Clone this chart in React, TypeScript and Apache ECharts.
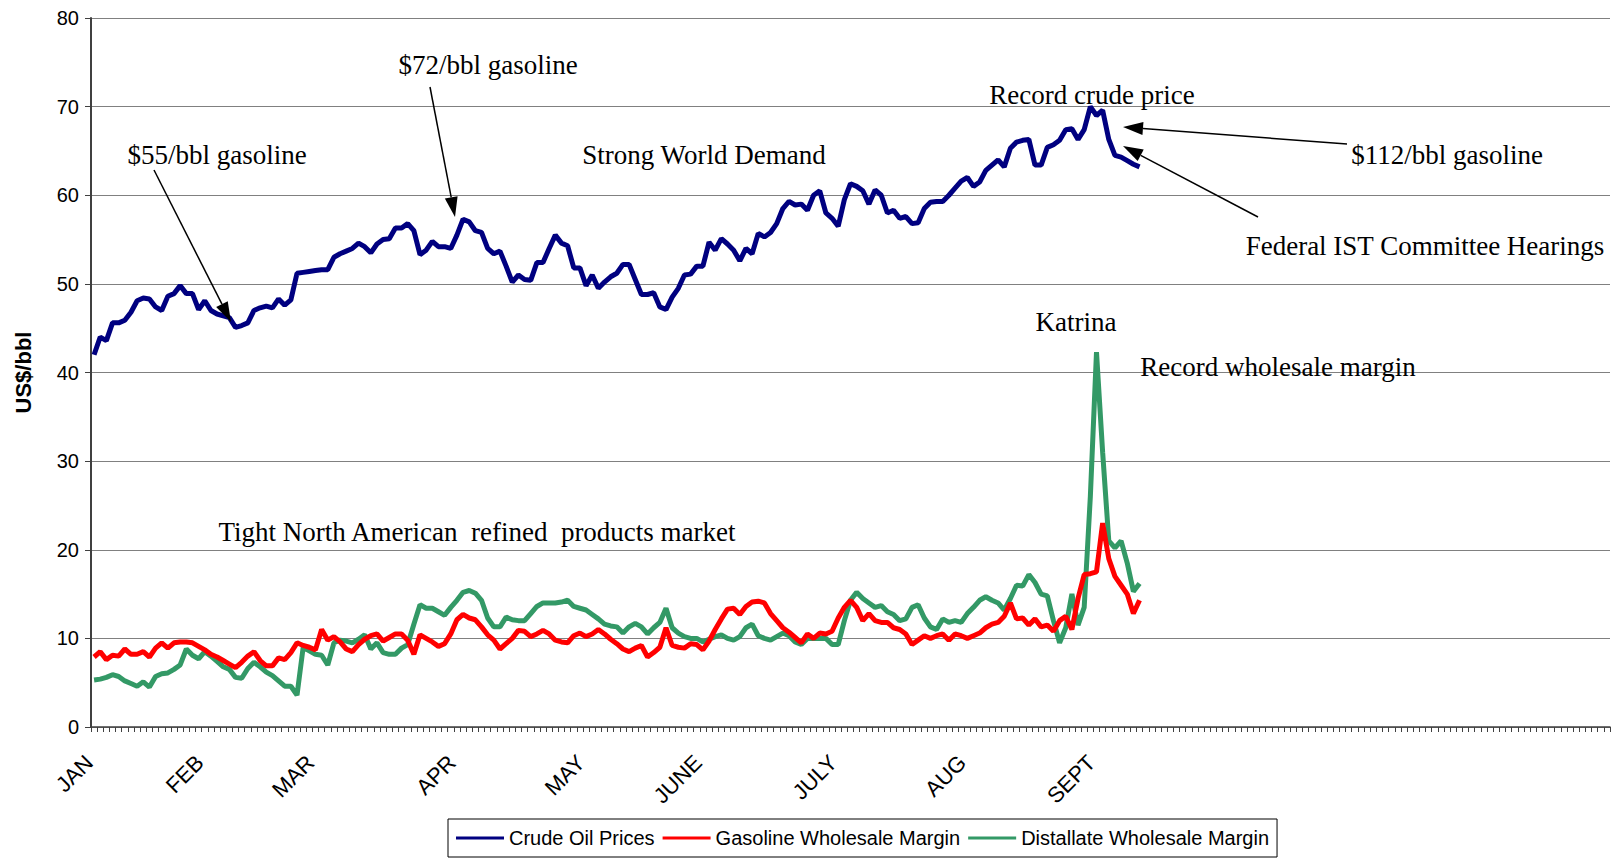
import React, { useEffect, useRef } from "react";
import * as echarts from "echarts";

const N_CATEGORIES = 247;
const monthLabels = ["JAN", "FEB", "MAR", "APR", "MAY", "JUNE", "JULY", "AUG", "SEPT"];
const monthStartIndex = [0, 18, 36, 59, 80, 99, 121, 142, 163];

const crudeOil = [
  42, 44, 43.6, 45.6, 45.6, 45.9, 46.8, 48.1, 48.4, 48.3,
  47.4, 47, 48.6, 48.9, 49.8, 48.9, 48.9, 47.1, 48.1, 47,
  46.6, 46.4, 46.2, 45.1, 45.3, 45.6, 47, 47.3, 47.5, 47.3,
  48.3, 47.6, 48.2, 51.2, 51.3, 51.4, 51.5, 51.6, 51.6,
  53, 53.4, 53.7, 54, 54.6, 54.2, 53.5, 54.5, 55, 55.1,
  56.3, 56.3, 56.8, 56, 53.3, 53.8, 54.8, 54.2, 54.2, 54,
  55.5, 57.3, 57, 56, 55.8, 54, 53.4, 53.7, 52, 50.2,
  51, 50.5, 50.4, 52.4, 52.4, 54, 55.5, 54.6, 54.3, 51.8,
  51.8, 49.8, 51, 49.5, 50.2, 50.8, 51.2, 52.2, 52.2, 50.5,
  48.8, 48.8, 49, 47.4, 47.1, 48.5, 49.5, 51, 51.1, 52,
  52, 54.7, 53.8, 55.1, 54.5, 53.8, 52.6, 54, 53.4, 55.7,
  55.3, 55.8, 56.8, 58.5, 59.3, 58.9, 59, 58.3, 60, 60.5,
  58, 57.4, 56.5, 59.5, 61.3, 61, 60.5, 59, 60.6, 60,
  58, 58.3, 57.4, 57.6, 56.8, 56.9, 58.5, 59.2, 59.3, 59.3,
  60, 60.8, 61.6, 62, 61, 61.5, 62.8,
  63.4, 64, 63.2, 65.3, 66, 66.2, 66.3, 63.4, 63.4, 65.4,
  65.7, 66.2, 67.4, 67.5, 66.3, 67.4, 70, 69, 69.6, 66.3,
  64.5, 64.3, 63.9, 63.5, 63.2,
];

const gasolineMargin = [
  7.9, 8.5, 7.6, 8.1, 8, 8.8, 8.2, 8.2, 8.5, 7.9,
  8.9, 9.5, 8.9, 9.5, 9.6, 9.6, 9.5, 9.1, 8.7, 8.2,
  7.9, 7.5, 7.1, 6.7, 7.3, 8, 8.5, 7.5, 6.9, 6.9,
  7.8, 7.6, 8.4, 9.5, 9.2, 9, 8.7, 11, 9.8, 10.2,
  9.6, 8.8, 8.5, 9.3, 9.9, 10.3, 10.5, 9.7, 10.1, 10.5,
  10.5, 9.8, 8.2, 10.4, 10, 9.6, 9.1, 9.4, 10.5, 12.1,
  12.7, 12.3, 12.1, 11.3, 10.4, 9.8, 8.8, 9.4, 10, 10.9,
  10.8, 10.2, 10.5, 10.9, 10.5, 9.8, 9.6, 9.5, 10.3, 10.6,
  10.2, 10.5, 11, 10.5, 9.9, 9.4, 8.8, 8.5, 8.9, 9.2,
  7.9, 8.4, 9, 11.2, 9.2, 9, 8.9, 9.4, 9.3, 8.7,
  9.7, 11, 12.2, 13.3, 13.4, 12.7, 13.6, 14.1, 14.2, 14,
  12.8, 12, 11.2, 10.7, 10.1, 9.5,
  10.5, 10, 10.6, 10.5, 10.8, 12.3, 13.5, 14.3, 13.5, 12,
  12.8, 12, 11.8, 11.8, 11.2, 11, 10.5, 9.3, 9.8, 10.3,
  10, 10.3, 10.5, 9.8, 10.5, 10.3, 10, 10.3, 10.6, 11.2,
  11.6,
  11.8, 12.5, 14, 12.2, 12.3, 11.5, 12.2, 11.3, 11.5, 10.8,
  12, 12.5, 11, 14.5, 17.2, 17.3, 17.5, 23, 19, 17,
  16, 15, 12.8, 14.3,
];

const distillateMargin = [
  5.3, 5.4, 5.6, 5.9, 5.7, 5.2, 4.9, 4.6, 5.1, 4.5,
  5.7, 6, 6.1, 6.5, 7, 8.8, 8.1, 7.7, 8.5, 8,
  7.4, 6.8, 6.5, 5.6, 5.5, 6.6, 7.3, 6.8, 6.2, 5.8,
  5.2, 4.6, 4.6, 3.6, 9, 8.6, 8.2, 8.1, 7, 9.5,
  9.8, 9.7, 9.5, 9.9, 10.4, 8.8, 9.5, 8.4, 8.2, 8.2,
  8.9, 9.3, 11.6, 13.8, 13.4, 13.4, 13, 12.6, 13.5, 14.3,
  15.2, 15.4, 15.1, 14.3, 12.3, 11.3, 11.3, 12.4, 12.1, 12,
  12, 12.8, 13.6, 14, 14, 14, 14.1, 14.3, 13.6, 13.4,
  13.2, 12.7, 12.2, 11.6, 11.4, 11.3, 10.6, 11.3, 11.7, 11.3,
  10.5, 11.2, 11.8, 13.4, 11.2, 10.6, 10.2, 10, 10, 9.6,
  9.9, 10.2, 10.4, 10, 9.8, 10.2, 11.2, 11.6, 10.3, 10,
  9.8, 10.2, 10.6, 10.3, 9.6, 9.3,
  10, 10, 10, 10, 9.3, 9.3, 12, 14.3, 15.2, 14.5,
  14, 13.5, 13.7, 13, 12.7, 12, 12.2, 13.5, 13.8, 12.3,
  11.3, 11, 12.2, 11.8, 12, 11.8, 12.8, 13.5, 14.3, 14.7,
  14.3,
  14, 13.2, 14.5, 16, 15.9, 17.2, 16.3, 15, 14.8, 12,
  9.5, 11.2, 15, 11.5, 13.5, 26, 42.3, 31, 21, 20.2,
  21, 18.5, 15.3, 16.2,
];

const seriesNames = ["Crude Oil Prices", "Gasoline Wholesale Margin", "Distallate Wholesale Margin"];
const seriesColors = ["#000080", "#FF0000", "#339966"];

function buildCategories(): string[] {
  const cats: string[] = [];
  for (let i = 0; i < N_CATEGORIES; i++) {
    const k = monthStartIndex.indexOf(i);
    cats.push(k >= 0 ? monthLabels[k] : "");
  }
  return cats;
}

function arrow(x1: number, y1: number, x2: number, y2: number) {
  const ang = Math.atan2(y2 - y1, x2 - x1);
  const L = 20;
  const W = 6.5;
  const c = Math.cos(ang);
  const s = Math.sin(ang);
  const bx = x2 - L * c;
  const by = y2 - L * s;
  return [
    { type: "line", shape: { x1, y1, x2: bx, y2: by }, style: { stroke: "#000", lineWidth: 1.5 }, z: 100 },
    {
      type: "polygon",
      shape: { points: [[x2, y2], [bx + W * s, by - W * c], [bx - W * s, by + W * c]] },
      style: { fill: "#000" },
      z: 100,
    },
  ];
}

function label(text: string, x: number, y: number) {
  return {
    type: "text",
    x,
    y,
    z: 100,
    style: {
      text,
      fill: "#000",
      font: "27px 'Liberation Serif', 'Times New Roman', serif",
      align: "center",
      verticalAlign: "middle",
    },
  };
}

const ARIAL = "Arial, 'Liberation Sans', sans-serif";

export default function App() {
  const ref = useRef<HTMLDivElement>(null);
  useEffect(() => {
    document.body.style.margin = "0";
    if (!ref.current) return;
    const chart = echarts.init(ref.current, null, { renderer: "svg" });
    const cats = buildCategories();
    const dataArrays = [crudeOil, gasolineMargin, distillateMargin];
    chart.setOption({
      animation: false,
      backgroundColor: "#fff",
      grid: { left: 91, top: 18, right: 2, bottom: 134, containLabel: false },
      legend: {
        data: seriesNames,
        left: 448,
        top: 819,
        orient: "horizontal",
        borderColor: "#000",
        borderWidth: 1,
        padding: [9, 8, 9, 8],
        itemWidth: 48,
        itemHeight: 3,
        itemGap: 8,
        icon: "rect",
        textStyle: { fontFamily: ARIAL, fontSize: 20, color: "#000" },
      },
      xAxis: {
        type: "category",
        data: cats,
        boundaryGap: true,
        axisLine: { lineStyle: { color: "#404040", width: 1.5 } },
        axisTick: { show: true, interval: 0, length: 5, lineStyle: { color: "#404040", width: 1 } },
        axisLabel: {
          interval: 0,
          rotate: 45,
          margin: 27,
          padding: [0, 7, 0, 0],
          fontFamily: ARIAL,
          fontSize: 22,
          color: "#000",
        },
        splitLine: { show: false },
      },
      yAxis: {
        type: "value",
        min: 0,
        max: 80,
        interval: 10,
        name: "US$/bbl",
        nameLocation: "middle",
        nameGap: 57,
        nameRotate: 90,
        nameTextStyle: { fontFamily: ARIAL, fontSize: 22, fontWeight: "bold", color: "#000" },
        axisLine: { show: true, lineStyle: { color: "#404040", width: 2 } },
        axisTick: { show: true, length: 6, lineStyle: { color: "#404040" } },
        axisLabel: { fontFamily: ARIAL, fontSize: 20, color: "#000", margin: 12 },
        splitLine: { show: true, lineStyle: { color: "#808080", width: 1.2 } },
      },
      series: seriesNames.map((name, i) => ({
        name,
        type: "line",
        data: dataArrays[i],
        showSymbol: false,
        symbol: "none",
        lineStyle: { color: seriesColors[i], width: 5 },
        itemStyle: { color: seriesColors[i] },
        z: 3 - i,
      })),
      graphic: [
        label("$55/bbl gasoline", 217, 155),
        label("$72/bbl gasoline", 488, 65),
        label("Strong World Demand", 704, 155),
        label("Record crude price", 1092, 95),
        label("$112/bbl gasoline", 1447, 155),
        label("Federal IST Committee Hearings", 1425, 246),
        label("Katrina", 1076, 322),
        label("Record wholesale margin", 1278, 367),
        label("Tight North American  refined  products market", 477, 532),
        ...arrow(154, 170, 231, 322),
        ...arrow(430, 87, 455, 217),
        ...arrow(1347, 144, 1123, 127),
        ...arrow(1258, 217, 1123, 146),
      ],
    });
    return () => chart.dispose();
  }, []);
  return <div ref={ref} style={{ width: 1612, height: 861 }} />;
}
